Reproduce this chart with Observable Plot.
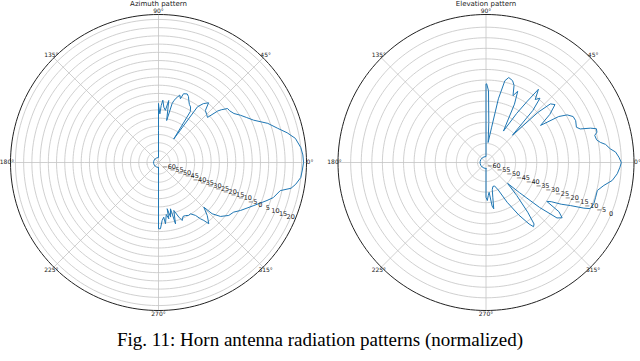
<!DOCTYPE html>
<html><head><meta charset="utf-8">
<script src="https://cdn.jsdelivr.net/npm/d3@7"></script>
<script src="https://cdn.jsdelivr.net/npm/@observablehq/plot@0.6"></script>
<style>
html,body{margin:0;padding:0;background:#fff;}
body{width:640px;height:361px;overflow:hidden;}
#row{position:relative;width:640px;height:324px;overflow:hidden;}
#row svg{position:absolute;top:0;}
#cap{font-family:"Liberation Serif","Times New Roman",serif;font-size:19px;text-align:center;width:640px;padding-top:5px;line-height:22px;color:#000;}
</style></head><body>
<div id="row"></div>
<div id="cap"></div>
<script>
// ---- data (angle in degrees, value in dB) ----
const azAngles = [-90,-90,-88.3,-86.4,-84.5,-83.5,-81.5,-79.6,-79.4,-77.5,-75.5,-74.5,-72.3,-69.6,-67.8,-65.5,-63,-60.5,-58,-55,-53.3,-52,-50.6,-47.4,-44.6,-43.7,-41,-37,-33.4,-30.3,-24.3,-19.3,-17,-13,-11,-9,-6,-3,0,3,6,10,13,16,19.7,24,27,30,33,36,38,40,41,42.6,45,48,50,52.7,55,57,58,60,62,64,65.5,67.3,70,71,72.5,74,76,77,79,80.6,82.5,84.5,86,87.3,88.4,89.7,90,90,110,130,150,170,190,210,230,250,270];
const azValues = [-64,-26.7,-26.7,-31.7,-33.6,-29.5,-35,-32.2,-38.4,-33,-37.9,-28.3,-36.4,-31.6,-28.9,-31,-30.8,-30,-30.2,-27.7,-24.3,-22.3,-18.8,-23.2,-28.3,-21.9,-17,-13.5,-12.2,-9.2,-3.4,2.9,6,9,15.1,17.5,20,20.6,21.2,20.9,20,17.5,13.3,8.4,3.6,-3.7,-6.8,-9.5,-12.3,-13.5,-13.7,-17.1,-19.2,-26.5,-25.6,-24.4,-19.6,-22,-25.6,-50,-30.5,-28,-27,-25,-23,-21.8,-22.5,-26,-24,-25.7,-28.1,-30.3,-41,-28.8,-35,-33.2,-29,-32.3,-37.4,-33,-31.1,-64,-64,-64,-64,-64,-64,-64,-64,-64,-64];

const elAngles = [-90,-90,-88,-86,-84,-82,-80.5,-79,-77,-74,-70,-66,-62,-58,-55,-53.5,-52,-50,-47,-44,-42,-40,-38,-36,-34,-32.6,-31,-29,-27,-25,-23.9,-21,-17.6,-14.1,-11,-8.1,-4.9,-2,0,2.3,4.6,6.3,8.6,10,11.6,14,15.3,17,18.2,19.6,21.3,25,27.8,30.4,32.3,34.2,37,40,42.3,44,45.9,48,50,52,54.4,56,58,61,64,66,68,70,72,75,77,79,81,84,86,88,89.5,90,90,110,130,150,170,190,210,230,250,270];
const elValues = [-61.2,-47.6,-46,-48.4,-49.8,-43.2,-41.8,-47,-50.8,-52.2,-52.2,-49.8,-42.7,-34.7,-28.5,-26.2,-27.1,-33.3,-42.7,-49.8,-42.7,-30.9,-21.4,-19.5,-22.4,-29.9,-28,-23.3,-19.1,-12.9,-10.1,-9.4,-9.6,-9.7,-7.2,-3.7,-1.7,-0.6,0,-1.1,-2.5,-4.9,-6.8,-9.1,-10.6,-11,-9.6,-9.4,-12,-16.7,-18.1,-17.2,-17.4,-19.5,-23.3,-32.8,-26.2,-21.4,-22.8,-29.9,-46,-30.9,-24.3,-26.2,-21.4,-29,-36.6,-47,-33.3,-27.1,-29.9,-25.2,-23.3,-22.4,-24.3,-33.3,-47.4,-54.5,-45,-30,-26.8,-26.8,-61.2,-61.2,-61.2,-61.2,-61.2,-61.2,-61.2,-61.2,-61.2,-61.2];

const azTicks = [-60,-55,-50,-45,-40,-35,-30,-25,-20,-15,-10,-5,0,5,10,15,20];
const elTicks = [-60,-55,-50,-45,-40,-35,-30,-25,-20,-15,-10,-5,0];
const angleTicks = [0,45,90,135,180,225,270,315];
const titles = ["Azimuth pattern","Elevation pattern"];
const captionText = "Fig. 11: Horn antenna radiation patterns (normalized)";

const fmt = v => (v < 0 ? "\u2212" + Math.abs(v) : String(v));

function polarChart({title, angles, values, ticks, rMin, rMax, width, marginLeft, marginRight}) {
  const R = 90;                                   // outer circle, degrees of arc (148 px)
  const RD = R * 158 / 148;                       // frame half-size (158 px)
  const rho = v => (v - rMin) / (rMax - rMin) * R; // radial scale
  const lon = a => a + 90;                          // math angle -> longitude
  const lat = v => 90 - rho(v);
  const circle = r => d3.geoCircle().center([0, 90]).radius(r)();
  const trace = {type: "LineString", coordinates: angles.map((a, i) => [lon(a), lat(values[i])])};
  const spokes = angleTicks.map(a => ({type: "LineString", coordinates: [[lon(a), 90], [lon(a), 90 - R]]}));
  return Plot.plot({
    width, height: 324,
    marginTop: 4, marginBottom: 4, marginLeft, marginRight,
    style: {fontFamily: "DejaVu Sans", background: "transparent"},
    projection: {type: "azimuthal-equidistant", rotate: [0, -90], domain: circle(RD)},
    marks: [
      Plot.geo(ticks, {geometry: t => circle(rho(t)), stroke: "#c4c4c4", strokeWidth: 0.8, fill: "none"}),
      Plot.geo(spokes, {stroke: "#c4c4c4", strokeWidth: 0.8}),
      Plot.geo([circle(R)], {stroke: "#222", strokeWidth: 1, fill: "none"}),
      Plot.geo([trace], {stroke: "#1f77b4", strokeWidth: 1, fill: "none"}),
      Plot.text(ticks, {x: () => lon(-22.5), y: t => lat(t), text: fmt, fontSize: 6.5, fill: "#222", textAnchor: "middle"}),
      Plot.text(angleTicks, {x: a => lon(a), y: () => 90 - R * 151.5 / 148, text: a => a + "\u00b0", fontSize: 6, fill: "#222", textAnchor: "middle"}),
      Plot.text([title], {frameAnchor: "top", dy: -0.5, lineAnchor: "middle", fontSize: 7, fill: "#222"})
    ]
  });
}

const row = document.getElementById("row");
const left = polarChart({title: titles[0], angles: azAngles, values: azValues, ticks: azTicks, rMin: -67, rMax: 23, width: 320, marginLeft: 0, marginRight: 4});
left.style.left = "0px";
const right = polarChart({title: titles[1], angles: elAngles, values: elValues, ticks: elTicks, rMin: -64, rMax: 6, width: 330, marginLeft: 7.5, marginRight: 6.5});
right.style.left = "320px";
row.append(left, right);
document.getElementById("cap").textContent = captionText;
</script>
</body></html>
